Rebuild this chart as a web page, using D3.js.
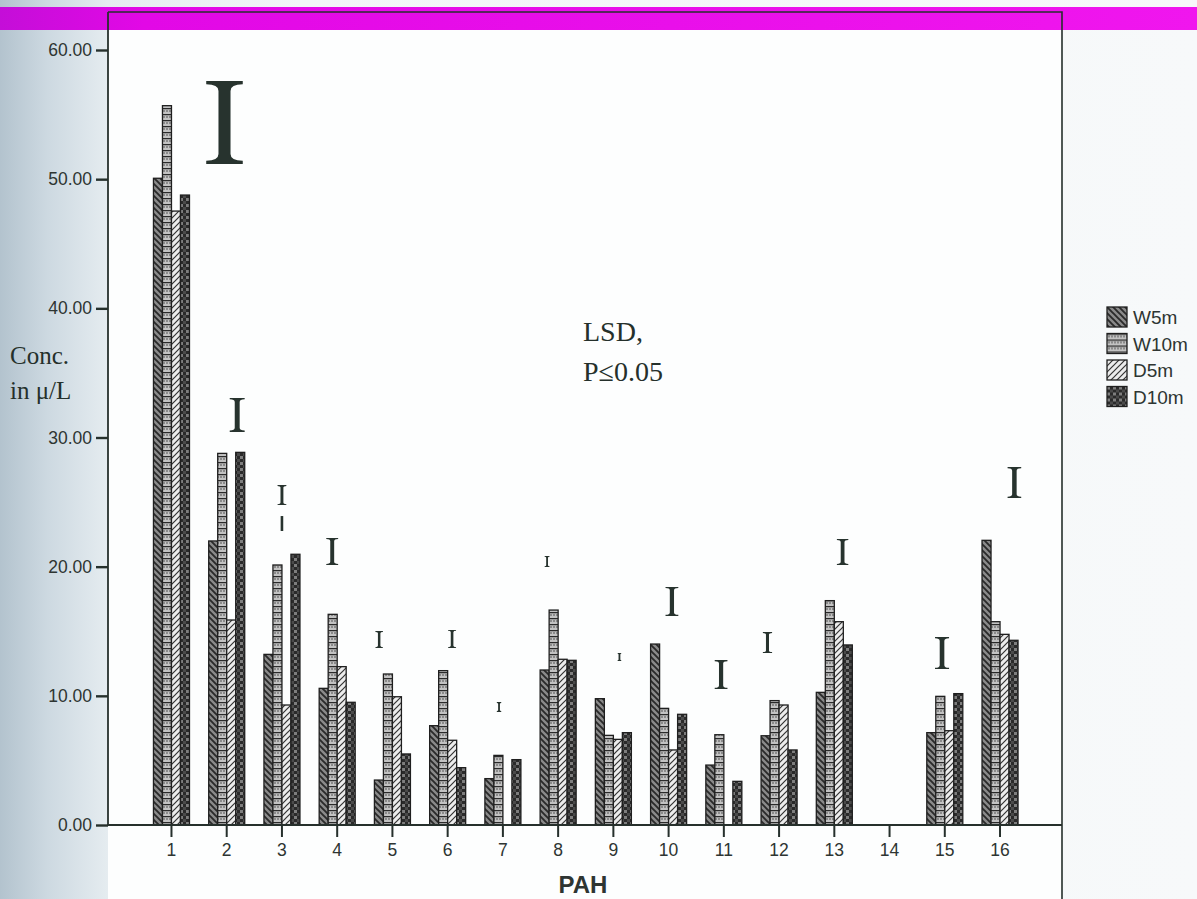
<!DOCTYPE html>
<html>
<head>
<meta charset="utf-8">
<script src="https://cdn.jsdelivr.net/npm/d3@7/dist/d3.min.js"></script>
<style>
  html, body { margin: 0; padding: 0; background: #f5f8fa; }
  svg { display: block; }
</style>
</head>
<body>
<svg id="chart" width="1197" height="899"></svg>
<script>
// ---------------- data ----------------
const categories = ["1","2","3","4","5","6","7","8","9","10","11","12","13","14","15","16"];
const seriesNames = ["W5m", "W10m", "D5m", "D10m"];
const W5m  = [50.07, 21.99, 13.21, 10.58, 3.48, 7.69, 3.59, 12.00, 9.78, 14.01, 4.64, 6.91, 10.27, 0, 7.15, 22.04];
const W10m = [55.69, 28.77, 20.13, 16.31, 11.69, 11.95, 5.39, 16.64, 6.94, 9.03, 6.99, 9.63, 17.37, 0, 9.96, 15.74];
const D5m  = [47.53, 15.87, 9.29, 12.26, 9.93, 6.56, 0, 12.83, 6.63, 5.81, 0, 9.29, 15.74, 0, 7.30, 14.76];
const D10m = [48.77, 28.85, 20.96, 9.50, 5.50, 4.44, 5.06, 12.75, 7.15, 8.57, 3.38, 5.81, 13.94, 0, 10.17, 14.30];
const yTicks = [0, 10, 20, 30, 40, 50, 60];
// LSD markers: position along PAH axis (category units), top and bottom (µ/L)
const lsdPos    = [1.96, 2.19, 3.00, 3.91, 4.76, 6.08, 6.93, 7.80, 9.11, 10.06, 10.95, 11.79, 13.15, 14.95, 16.26];
const lsdTop    = [57.60, 33.06, 26.32, 22.22, 15.02, 15.10, 9.52, 20.83, 13.32, 18.43, 12.77, 14.94, 22.14, 14.55, 27.72];
const lsdBottom = [51.17, 30.43, 24.77, 20.13, 13.70, 13.70, 8.75, 19.97, 12.70, 16.18, 10.53, 13.32, 20.13, 12.08, 25.32];
// broken fragment under marker 3
const fragPos = [3.00], fragTop = [23.92], fragBottom = [22.76];

const seriesValues = [W5m, W10m, D5m, D10m];

// ---------------- layout ----------------
const svg = d3.select("#chart");
const W = 1197, H = 899;
const box = { left: 108, top: 12, right: 1062, bottom: 899 };
const axisY = 825;

const defs = svg.append("defs");
// page background gradient (scanned page shading)
const bg = defs.append("linearGradient").attr("id", "pageBg").attr("x1", "0").attr("x2", "1").attr("y1", "0").attr("y2", "0");
[[0, "#b3c3ce"], [0.04, "#cdd9e1"], [0.09, "#e5ecf0"], [0.25, "#f2f6f8"], [1, "#f7f9fa"]]
  .forEach(([o, c]) => bg.append("stop").attr("offset", o).attr("stop-color", c));
const band = defs.append("linearGradient").attr("id", "bandBg").attr("x1", "0").attr("x2", "1").attr("y1", "0").attr("y2", "0");
[[0, "#c40ed8"], [0.12, "#e208e6"], [1, "#f016ee"]]
  .forEach(([o, c]) => band.append("stop").attr("offset", o).attr("stop-color", c));

// patterns
function pat(id, w, h) {
  return defs.append("pattern").attr("id", id).attr("patternUnits", "userSpaceOnUse")
    .attr("width", w).attr("height", h);
}
// W5m: dark diagonal "\" stripes on gray
let p = pat("pW5m", 6, 6);
p.append("rect").attr("width", 6).attr("height", 6).attr("fill", "#8a8a8a");
p.append("path").attr("d", "M-1,-1 L7,7 M-4,2 L2,8 M2,-4 L8,2").attr("stroke", "#2a2a2a").attr("stroke-width", 1.9);
// W10m: light halftone cells with horizontal dark lines
p = pat("pW10m", 6, 6);
p.append("rect").attr("width", 6).attr("height", 6).attr("fill", "#c2c2c2");
p.append("rect").attr("x", 1).attr("y", 2).attr("width", 2).attr("height", 2).attr("fill", "#8a8a8a");
p.append("rect").attr("x", 4).attr("y", 2).attr("width", 2).attr("height", 2).attr("fill", "#8a8a8a");
p.append("line").attr("x1", 0).attr("x2", 6).attr("y1", 0.6).attr("y2", 0.6).attr("stroke", "#2a2a2a").attr("stroke-width", 1.3);
// D5m: "/" dark lines on light
p = pat("pD5m", 6, 6);
p.append("rect").attr("width", 6).attr("height", 6).attr("fill", "#ececec");
p.append("path").attr("d", "M-1,7 L7,-1 M-4,4 L4,-4 M2,10 L10,2").attr("stroke", "#333").attr("stroke-width", 1.2);
// D10m: dark with gray speckle squares
p = pat("pD10m", 6, 6);
p.append("rect").attr("width", 6).attr("height", 6).attr("fill", "#2a2a2a");
p.append("rect").attr("x", 0).attr("y", 0).attr("width", 3).attr("height", 3).attr("fill", "#7e7e7e");
p.append("rect").attr("x", 3).attr("y", 3).attr("width", 3).attr("height", 3).attr("fill", "#4a4a4a");

// background
svg.append("rect").attr("width", W).attr("height", H).attr("fill", "url(#pageBg)");
svg.append("rect").attr("x", box.left).attr("y", box.top).attr("width", box.right - box.left)
  .attr("height", box.bottom - box.top).attr("fill", "#fdfefe");

// magenta band
svg.append("rect").attr("x", 0).attr("y", 7).attr("width", W).attr("height", 23).attr("fill", "url(#bandBg)");

// box lines (top and right)
svg.append("path")
  .attr("d", `M${box.left},${box.top} H${box.right} V${box.bottom}`)
  .attr("fill", "none").attr("stroke", "#26302c").attr("stroke-width", 1.6);

// ---------------- scales ----------------
const x = d3.scaleBand().domain(categories).range([108.5, 1063]).paddingInner(0.348).paddingOuter(0.814);
const xs = d3.scaleBand().domain(seriesNames).range([0, x.bandwidth()]);
const y = d3.scaleLinear().domain([0, 60]).range([axisY, 50]);
// continuous category-unit scale for LSD markers
const xc = d3.scaleLinear().domain([1, 16])
  .range([x("1") + x.bandwidth() / 2, x("16") + x.bandwidth() / 2]);

// ---------------- bars ----------------
const barData = [];
categories.forEach((c, i) => {
  seriesNames.forEach((s, j) => {
    barData.push({ cat: c, series: s, value: seriesValues[j][i] });
  });
});
svg.append("g").selectAll("rect")
  .data(barData.filter(d => d.value > 0))
  .join("rect")
  .attr("x", d => x(d.cat) + xs(d.series))
  .attr("y", d => y(d.value))
  .attr("width", xs.bandwidth())
  .attr("height", d => y(0) - y(d.value))
  .attr("fill", d => `url(#p${d.series})`)
  .attr("stroke", "#1f1f1f")
  .attr("stroke-width", 1.3);

// ---------------- LSD markers ----------------
function iBeam(cx, top, bot) {
  const h = bot - top;
  const stem = Math.max(1.8, 0.145 * h);
  const sw = Math.max(stem, 0.44 * h);
  const st = Math.max(0.9, 0.04 * h);
  const fl = 0.08 * h;
  const a = stem / 2, b = sw / 2;
  return `M${cx - b},${top} H${cx + b} V${top + st} Q${cx + a},${top + st} ${cx + a},${top + st + fl}` +
    ` V${bot - st - fl} Q${cx + a},${bot - st} ${cx + b},${bot - st} V${bot} H${cx - b} V${bot - st}` +
    ` Q${cx - a},${bot - st} ${cx - a},${bot - st - fl} V${top + st + fl} Q${cx - a},${top + st} ${cx - b},${top + st} Z`;
}
const lsdData = lsdPos.map((pp, i) => ({ pos: pp, top: lsdTop[i], bottom: lsdBottom[i] }));
svg.append("g").selectAll("path")
  .data(lsdData)
  .join("path")
  .attr("d", d => iBeam(xc(d.pos), y(d.top), y(d.bottom)))
  .attr("fill", "#27332e");
svg.append("g").selectAll("line")
  .data(fragPos.map((pp, i) => ({ pos: pp, top: fragTop[i], bottom: fragBottom[i] })))
  .join("line")
  .attr("x1", d => xc(d.pos)).attr("x2", d => xc(d.pos))
  .attr("y1", d => y(d.top)).attr("y2", d => y(d.bottom))
  .attr("stroke", "#27332e").attr("stroke-width", 2.6);

// ---------------- axes ----------------
const yAxis = d3.axisLeft(y).tickValues(yTicks).tickFormat(d3.format(".2f")).tickSize(12).tickPadding(4);
const gy = svg.append("g").attr("transform", `translate(${box.left},0)`).call(yAxis);
gy.select(".domain").remove();
gy.selectAll(".tick line").attr("stroke", "#26302c").attr("stroke-width", 2.4);
gy.selectAll(".tick text").attr("font-family", "'Liberation Sans', Arial, sans-serif")
  .attr("font-size", 17.5).attr("fill", "#2e3532");
svg.append("line").attr("x1", box.left).attr("x2", box.left).attr("y1", box.top).attr("y2", axisY + 1)
  .attr("stroke", "#26302c").attr("stroke-width", 1.8);

const xAxis = d3.axisBottom(x).tickSize(12).tickPadding(7);
const gx = svg.append("g").attr("transform", `translate(0,${axisY})`).call(xAxis);
gx.select(".domain").remove();
gx.selectAll(".tick line").attr("stroke", "#26302c").attr("stroke-width", 2);
gx.selectAll(".tick text").attr("font-family", "'Liberation Sans', Arial, sans-serif")
  .attr("font-size", 17.5).attr("fill", "#2e3532");
svg.append("line").attr("x1", box.left - 1).attr("x2", box.right).attr("y1", axisY).attr("y2", axisY)
  .attr("stroke", "#26302c").attr("stroke-width", 2);

// axis titles
svg.append("text").attr("x", 583).attr("y", 893).attr("text-anchor", "middle")
  .attr("font-family", "'Liberation Sans', Arial, sans-serif").attr("font-weight", "bold")
  .attr("font-size", 24).attr("fill", "#2e3532").text("PAH");
const yt = svg.append("text").attr("font-family", "'Liberation Serif', 'Times New Roman', serif")
  .attr("font-size", 25).attr("fill", "#25302b");
yt.append("tspan").attr("x", 10).attr("y", 364).text("Conc.");
yt.append("tspan").attr("x", 10).attr("y", 399).text("in μ/L");

// annotation
const ann = svg.append("text").attr("font-family", "'Liberation Serif', 'Times New Roman', serif")
  .attr("font-size", 28).attr("fill", "#25302b");
ann.append("tspan").attr("x", 583).attr("y", 341).text("LSD,");
ann.append("tspan").attr("x", 583).attr("y", 381).text("P≤0.05");

// ---------------- legend ----------------
const lg = svg.append("g").attr("transform", "translate(1107,307)");
const li = lg.selectAll("g").data(seriesNames).join("g")
  .attr("transform", (d, i) => `translate(0,${i * 26.5})`);
li.append("rect").attr("width", 20).attr("height", 20)
  .attr("fill", d => `url(#p${d})`).attr("stroke", "#1f1f1f").attr("stroke-width", 1.3);
li.append("text").attr("x", 26).attr("y", 17)
  .attr("font-family", "'Liberation Sans', Arial, sans-serif").attr("font-size", 19)
  .attr("fill", "#2e3532").text(d => d);
</script>
</body>
</html>
